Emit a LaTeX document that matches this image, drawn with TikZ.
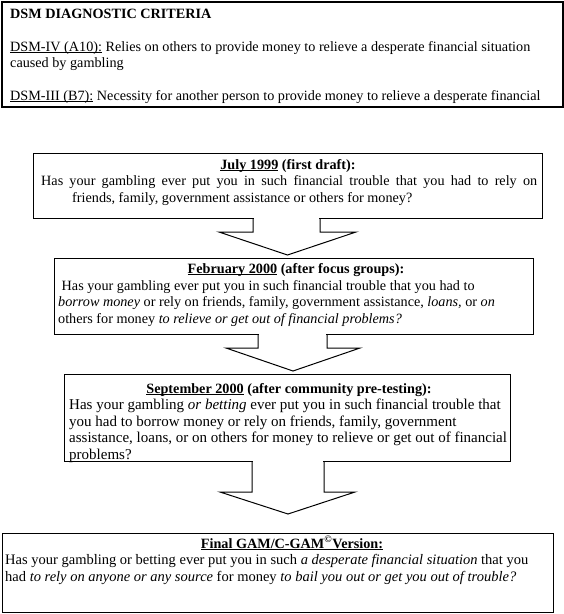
\documentclass[tikz,border=0pt]{standalone}
\usepackage{fontspec}
\setmainfont{Liberation Serif}
\newcommand\ulx[1]{\begingroup\setbox0\hbox{#1}\rlap{\rule[-1.7pt]{\wd0}{0.9pt}}\box0\endgroup}
\tikzset{
  box/.style={draw, line width=1.1pt, inner sep=0pt, anchor=north west},
  txt/.style={anchor=base west, inner sep=0pt, font=\fontsize{14.2}{16.5}\selectfont},
  txtb/.style={anchor=base west, inner sep=0pt, font=\fontsize{15}{16.5}\selectfont},
  txtc/.style={anchor=base west, inner sep=0pt, font=\fontsize{14.5}{16.5}\selectfont},
  ttl/.style={anchor=base, inner sep=0pt, font=\fontsize{14.2}{16.5}\selectfont\bfseries},
  arr/.style={draw, line width=1pt, line join=miter}
}
\begin{document}
\begin{tikzpicture}[x=1pt,y=-1pt]
\useasboundingbox (0,0) rectangle (564,614);
% boxes
\node[box, line width=1.5pt, minimum width=561pt, minimum height=105pt] (top) at (1,1) {};
\node[box, minimum width=509pt, minimum height=65pt] (b1) at (33,153) {};
\node[box, minimum width=479pt, minimum height=76pt] (b2) at (54,258) {};
\node[box, minimum width=446pt, minimum height=87pt] (b3) at (64,374) {};
\node[box, minimum width=551pt, minimum height=79pt] (b4) at (2,533) {};
% top box text
\node[txt, font=\fontsize{14.2}{16.5}\selectfont\bfseries] (t0) at (10,18) {DSM DIAGNOSTIC CRITERIA};
\node[txt] (t1) at (10,51) {\ulx{DSM-IV (A10):} Relies on others to provide money to relieve a desperate financial situation};
\node[txt] (t2) at (10,67.5) {caused by gambling};
\node[txt] (t3) at (10,100.5) {\ulx{DSM-III (B7):} Necessity for another person to provide money to relieve a desperate financial};
% box 1
\node[ttl] (h1) at (288,169) {\ulx{July 1999} (first draft):};
\node[txt] (l11) at (41,185.5) {\makebox[496pt][s]{Has your gambling ever put you in such financial trouble that you had to rely on}};
\node[txt] (l12) at (72,202) {friends, family, government assistance or others for money?};
% box 2
\node[ttl] (h2) at (296,273.5) {\ulx{February 2000} (after focus groups):};
\node[txt] (l21) at (61.5,290) {Has your gambling ever put you in such financial trouble that you had to};
\node[txt] (l22) at (58,306.5) {\textit{borrow money} or rely on friends, family, government assistance, \textit{loans,} or \textit{on}};
\node[txt] (l23) at (58,323) {others for money \textit{to relieve or get out of financial problems?}};
% box 3
\node[ttl] (h3) at (289,393) {\ulx{September 2000} (after community pre-testing):};
\node[txtb] (l31) at (69,409.5) {Has your gambling \textit{or betting} ever put you in such financial trouble that};
\node[txtb] (l32) at (69,426) {you had to borrow money or rely on friends, family, government};
\node[txtb] (l33) at (69,442.5) {assistance, loans, or on others for money to relieve or get out of financial};
\node[txtb] (l34) at (69,459) {problems?};
% box 4
\node[ttl] (h4) at (292,548) {\ulx{Final GAM/C-GAM\textsuperscript{©}Version:}};
\node[txtc] (l41) at (5,564.5) {Has your gambling or betting ever put you in such \textit{a desperate financial situation} that you};
\node[txtc] (l42) at (5,581) {had \textit{to rely on anyone or any source} for money \textit{to bail you out or get you out of trouble?}};
% arrows (open at top, merged into the box above)
\fill[white] (253.6,216.5) rectangle (319.4,219.6);
\draw[arr] (253,218) -- (253,232) -- (219,232) -- (287.5,255) -- (356,232) -- (320,232) -- (320,218);
\fill[white] (258.6,332.5) rectangle (326.4,335.6);
\draw[arr] (258,334) -- (258,348) -- (226,348) -- (293,371) -- (360,348) -- (327,348) -- (327,334);
\fill[white] (252.6,459.5) rectangle (323.4,462.6);
\draw[arr] (252,461) -- (252,492) -- (220,492) -- (288,514) -- (355,492) -- (324,492) -- (324,461);
\end{tikzpicture}
\end{document}
